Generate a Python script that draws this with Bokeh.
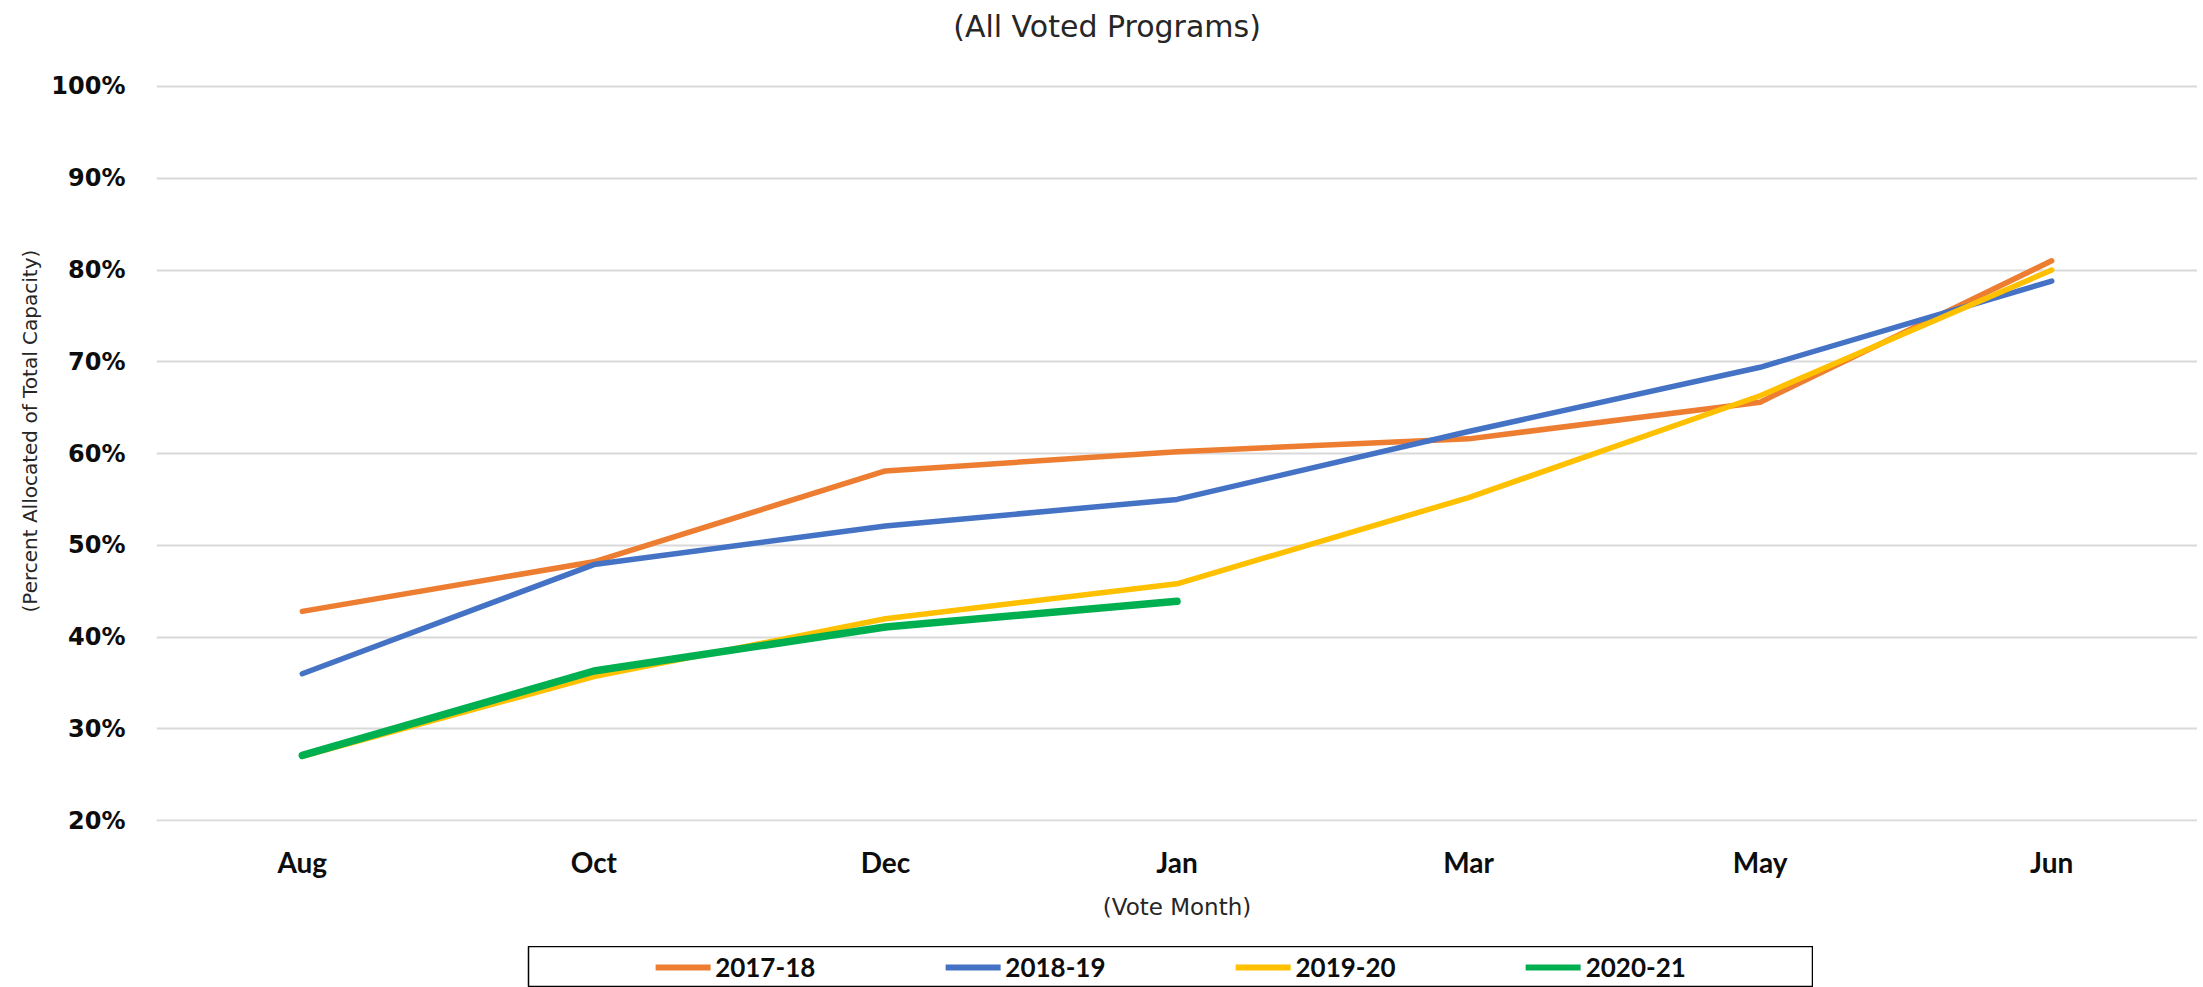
from bokeh.plotting import figure
from bokeh.models import FactorRange, Range1d, FixedTicker, PrintfTickFormatter, Legend, LegendItem, Label, Title
from bokeh.layouts import column
from bokeh.embed import file_html
from bokeh.resources import INLINE

# ---- data ----
months = ["Aug", "Oct", "Dec", "Jan", "Mar", "May", "Jun"]
s2017_18 = [42.8, 48.2, 58.1, 60.2, 61.6, 65.6, 81.0]
s2018_19 = [36.0, 47.9, 52.1, 55.0, 62.4, 69.4, 78.8]
s2019_20 = [27.0, 35.7, 42.0, 45.8, 55.2, 66.3, 80.0]
s2020_21 = [27.1, 36.3, 41.1, 43.9]
series_names = ["2017-18", "2018-19", "2019-20", "2020-21"]
y_ticks = [20, 30, 40, 50, 60, 70, 80, 90, 100]

colors = ["#ED7D31", "#4472C4", "#FFC000", "#00B050"]
widths = [5.5, 5.5, 5.5, 7.5]
series = [(months, s2017_18), (months, s2018_19), (months, s2019_20),
          (months[:len(s2020_21)], s2020_21)]

# frame spans the title area too (no outline), gridlines only at the fixed ticks
p = figure(width=2197, height=946, x_range=FactorRange(factors=months, range_padding=0),
           y_range=Range1d(19.9, 108.5), output_backend="svg", toolbar_location=None,
           min_border_left=156, min_border_right=0, min_border_top=8, min_border_bottom=125)
p.outline_line_color = None

for (xs, ys), c, w in zip(series, colors, widths):
    p.line(xs, ys, line_color=c, line_width=w, line_cap="round", line_join="round")

p.xgrid.grid_line_color = None
p.ygrid.grid_line_color = "#d9d9d9"
p.ygrid.grid_line_width = 2
p.yaxis.ticker = FixedTicker(ticks=y_ticks)
p.yaxis.formatter = PrintfTickFormatter(format="%d%%")

for ax in (p.xaxis[0], p.yaxis[0]):
    ax.axis_line_color = None
    ax.major_tick_line_color = None
    ax.minor_tick_line_color = None
    ax.major_tick_out = 0
    ax.major_tick_in = 0

p.yaxis.major_label_text_font = "DejaVu Sans"
p.yaxis.major_label_text_font_style = "bold"
p.yaxis.major_label_text_font_size = "24px"
p.yaxis.major_label_text_color = "#0d0d0d"
p.yaxis.major_label_standoff = 31

p.xaxis.major_label_text_font = "Lato"
p.xaxis.major_label_text_font_style = "bold"
p.xaxis.major_label_text_font_size = "28px"
p.xaxis.major_label_text_color = "#0d0d0d"
p.xaxis.major_label_standoff = 23
p.xaxis.axis_label = "(Vote Month)"
p.xaxis.axis_label_text_font = "DejaVu Sans"
p.xaxis.axis_label_text_font_style = "normal"
p.xaxis.axis_label_text_font_size = "23px"
p.xaxis.axis_label_text_color = "#262626"
p.xaxis.axis_label_standoff = 12

# chart title inside the (invisible) upper part of the frame
p.add_layout(Label(x=3.26, y=106.54, text="(All Voted Programs)", text_align="center",
                   text_baseline="middle", text_font="DejaVu Sans", text_font_size="30px",
                   text_color="#262626"))

# y-axis title as a side title
p.add_layout(Title(text="(Percent Allocated of Total Capacity)", align="left", offset=209,
                   standoff=13, text_font="DejaVu Sans", text_font_style="normal",
                   text_font_size="20px", text_color="#262626"), "left")

# ---- legend box ----
lg = figure(width=156 + 1285, height=41, x_range=FactorRange(factors=months, range_padding=0),
            y_range=Range1d(-100, -90), output_backend="svg", toolbar_location=None,
            min_border_left=156, min_border_right=0, min_border_top=0, min_border_bottom=0)
lg.margin = (0, 0, 0, 372)
lg.axis.visible = False
lg.grid.visible = False
lg.outline_line_color = "#000000"
lg.outline_line_width = 1.5
items = []
for name, (xs, ys), c in zip(series_names, series, colors):
    r = lg.line(xs, ys, line_color=c, line_width=6, line_cap="round")
    items.append(LegendItem(label=name, renderers=[r]))
legend = Legend(items=items, orientation="horizontal", location="center",
                label_text_font="Lato", label_text_font_style="bold", label_text_font_size="26px",
                label_text_color="#0d0d0d", glyph_width=55, label_standoff=5, label_width=100,
                spacing=130, padding=0, margin=0, border_line_color=None, background_fill_alpha=0)
lg.add_layout(legend, "center")

layout = column(p, lg, spacing=0)
open("out.html", "w").write(file_html(layout, INLINE))
